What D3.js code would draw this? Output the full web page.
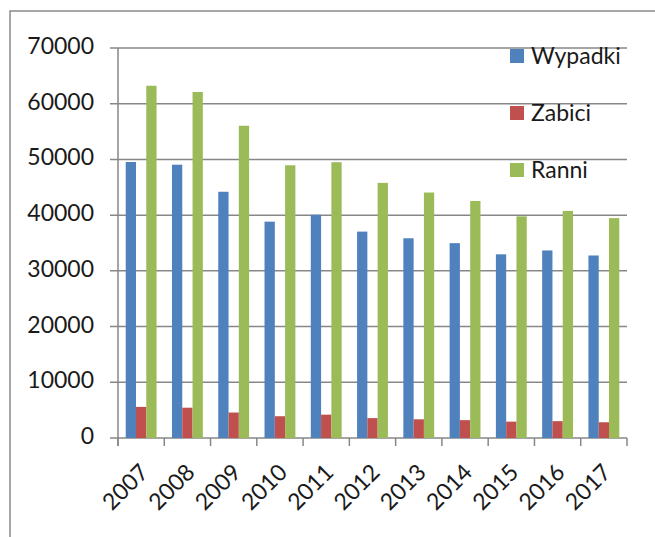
<!DOCTYPE html>
<html>
<head>
<meta charset="utf-8">
<script src="https://cdn.jsdelivr.net/npm/d3@7"></script>
<style>
  html, body { margin: 0; padding: 0; background: #fff; }
  svg { display: block; font-family: "Lato", "Liberation Sans", sans-serif; }
</style>
</head>
<body>
<svg id="chart" width="655" height="537"></svg>
<script>
const years = ["2007", "2008", "2009", "2010", "2011", "2012", "2013", "2014", "2015", "2016", "2017"];
const series = ["Wypadki", "Zabici", "Ranni"];
const wypadki = [49536, 49054, 44196, 38832, 40065, 37046, 35847, 34970, 32967, 33664, 32760];
const zabici = [5583, 5437, 4572, 3907, 4189, 3571, 3357, 3202, 2938, 3026, 2831];
const ranni = [63224, 62097, 56046, 48952, 49501, 45792, 44059, 42545, 39778, 40766, 39466];
const yTicks = [0, 10000, 20000, 30000, 40000, 50000, 60000, 70000];

const colors = { Wypadki: "#4f81bd", Zabici: "#c0504d", Ranni: "#9bbb59" };
const values = { Wypadki: wypadki, Zabici: zabici, Ranni: ranni };

const svg = d3.select("#chart");
const plotLeft = 118, plotRight = 627, plotTop = 48, plotBottom = 438;
const gridColor = "#878787";

// outer frame (cut off at right/bottom like the screenshot)
svg.append("path")
  .attr("d", "M10,537 V11 H655")
  .attr("fill", "none")
  .attr("stroke", "#8a8a8a")
  .attr("stroke-width", 1.5);

const x = d3.scaleBand().domain(years).range([plotLeft, plotRight]);
const xs = d3.scaleBand().domain(series).range([0, x.bandwidth()]).paddingOuter(0.75);
const y = d3.scaleLinear().domain([0, 70000]).range([plotBottom, plotTop]);

// gridlines + y tick marks
svg.append("g")
  .selectAll("line")
  .data(yTicks)
  .join("line")
  .attr("x1", plotLeft - 8)
  .attr("x2", plotRight)
  .attr("y1", d => y(d))
  .attr("y2", d => y(d))
  .attr("stroke", gridColor)
  .attr("stroke-width", 1.5);

// y labels
svg.append("g")
  .selectAll("text")
  .data(yTicks)
  .join("text")
  .attr("x", 94)
  .attr("y", d => y(d) - 2)
  .attr("dy", "0.35em")
  .attr("text-anchor", "end")
  .attr("font-size", 23)
  .attr("fill", "#1a1a1a")
  .text(d => d);

// bars
svg.append("g")
  .selectAll("g")
  .data(series)
  .join("g")
  .attr("fill", s => colors[s])
  .selectAll("rect")
  .data(s => years.map((yr, i) => ({ s, yr, v: values[s][i] })))
  .join("rect")
  .attr("x", d => x(d.yr) + xs(d.s))
  .attr("width", xs.bandwidth())
  .attr("y", d => y(d.v))
  .attr("height", d => y(0) - y(d.v));

// axis lines
svg.append("line")
  .attr("x1", plotLeft).attr("x2", plotLeft)
  .attr("y1", plotTop).attr("y2", plotBottom + 8)
  .attr("stroke", gridColor).attr("stroke-width", 1.5);

const xTickPos = years.map(d => x(d)).concat([plotRight]);
svg.append("g")
  .selectAll("line")
  .data(xTickPos)
  .join("line")
  .attr("x1", d => d).attr("x2", d => d)
  .attr("y1", plotBottom).attr("y2", plotBottom + 8)
  .attr("stroke", gridColor).attr("stroke-width", 1.5);

// x labels
svg.append("g")
  .selectAll("text")
  .data(years)
  .join("text")
  .attr("transform", d => `translate(${x(d) + x.bandwidth() / 2 + 3},${plotBottom + 30}) rotate(-45)`)
  .attr("text-anchor", "end")
  .attr("dy", "0.35em")
  .attr("font-size", 23)
  .attr("fill", "#1a1a1a")
  .text(d => d);

// legend
const legend = svg.append("g")
  .selectAll("g")
  .data(series)
  .join("g")
  .attr("transform", (d, i) => `translate(510,${56 + i * 57})`);
legend.append("rect")
  .attr("x", 0).attr("y", -7)
  .attr("width", 14).attr("height", 14)
  .attr("fill", d => colors[d]);
legend.append("text")
  .attr("x", 21)
  .attr("dy", "0.35em")
  .attr("font-size", 23)
  .attr("fill", "#1a1a1a")
  .text(d => d);
</script>
</body>
</html>
